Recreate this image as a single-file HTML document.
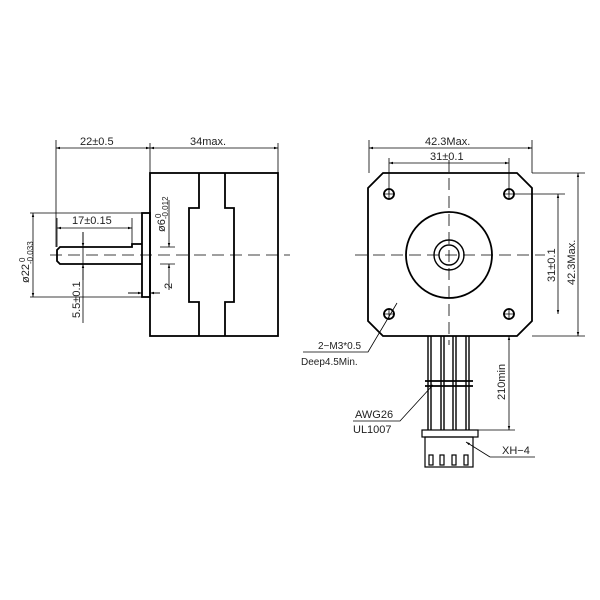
<!DOCTYPE html>
<html><head><style>body{margin:0;background:#fff}svg{display:block}text{font-family:"Liberation Sans",sans-serif;fill:#222}</style></head><body>
<svg width="600" height="600" viewBox="0 0 600 600" xmlns="http://www.w3.org/2000/svg">
<defs><marker id="a" viewBox="0 0 10 10" refX="10" refY="5" markerWidth="7" markerHeight="5" orient="auto-start-reverse"><path d="M0,2 L10,5 L0,8z" fill="#000"/></marker></defs>
<g fill="none" stroke="#000" stroke-width="1.8">
<rect x="150" y="173" width="128" height="163"/>
<path d="M199,173V208H189V302H199V336M225,173V208H234V302H225V336"/>
<rect x="142" y="213" width="8" height="84"/>
<path d="M142,244H132V247H60L57,250V261L60,264H142"/>
<path d="M368,188L383,173H517L532,188V321L517,336H383L368,321Z"/>
<circle cx="389" cy="194" r="5"/><circle cx="509" cy="194" r="5"/><circle cx="389" cy="314" r="5"/><circle cx="509" cy="314" r="5"/>
<circle cx="449" cy="255" r="43"/><circle cx="449" cy="255" r="15" stroke-width="1.4"/><circle cx="449" cy="255" r="10" stroke-width="1.4"/>
<rect x="422" y="430" width="56" height="7" stroke-width="1.2"/>
<rect x="425" y="437" width="48" height="30" stroke-width="1.2"/>
</g>
<g fill="none" stroke="#000" stroke-width="1.2">
<rect x="429" y="455" width="4" height="10"/><rect x="440" y="455" width="4" height="10"/><rect x="452" y="455" width="4" height="10"/><rect x="464" y="455" width="4" height="10"/>
<path d="M428,336V430M431,336V430M441,336V430M444,336V430M453,336V430M456,336V430M466,336V430M469,336V430" stroke-width="1.4"/>
<path d="M425,381H473M425,386H473" stroke-width="1.8"/>
</g>
<g fill="none" stroke="#000" stroke-width="0.8">
<path d="M50,255H290M355,255H545M449,160V345M383,194H395M509,188V200M503,194H515M383,314H395M389,308V320M509,308V320M503,314H515M389,188V200" stroke-dasharray="12,6"/>
<path d="M56,140V247M150,143V173M278,143V173M30,213H142M30,297H142M57,218V247M132,218V244M160,264H175M160,247H175M83,232V323M128,293H142M150,293H160M369,140V173M532,140V173M389,158V194M509,158V194M515,194H565M532,173H585M532,336H585M470,336H515M478,430H515M303,352H368L397,303M353,421H400L432,386M535,457H490"/>
<line x1="56" y1="148" x2="150" y2="148" marker-start="url(#a)" marker-end="url(#a)"/>
<line x1="150" y1="148" x2="278" y2="148" marker-start="url(#a)" marker-end="url(#a)"/>
<line x1="33" y1="213" x2="33" y2="297" marker-start="url(#a)" marker-end="url(#a)"/>
<line x1="57" y1="228" x2="132" y2="228" marker-start="url(#a)" marker-end="url(#a)"/>
<line x1="83" y1="232" x2="83" y2="247" marker-end="url(#a)"/>
<line x1="83" y1="280" x2="83" y2="264" marker-end="url(#a)"/>
<line x1="169" y1="200" x2="169" y2="247" marker-end="url(#a)"/>
<line x1="169" y1="290" x2="169" y2="264" marker-end="url(#a)"/>
<line x1="128" y1="293" x2="142" y2="293" marker-end="url(#a)"/>
<line x1="160" y1="293" x2="150" y2="293" marker-end="url(#a)"/>
<line x1="369" y1="148" x2="532" y2="148" marker-start="url(#a)" marker-end="url(#a)"/>
<line x1="389" y1="163" x2="509" y2="163" marker-start="url(#a)" marker-end="url(#a)"/>
<line x1="558" y1="194" x2="558" y2="314" marker-start="url(#a)" marker-end="url(#a)"/>
<line x1="578" y1="173" x2="578" y2="336" marker-start="url(#a)" marker-end="url(#a)"/>
<line x1="509" y1="336" x2="509" y2="430" marker-start="url(#a)" marker-end="url(#a)"/>
<line x1="432" y1="386" x2="430" y2="388" marker-end="url(#a)"/>
<line x1="490" y1="457" x2="466" y2="442" marker-end="url(#a)"/>
</g>
<g font-size="11">
<text x="80" y="145">22±0.5</text>
<text x="190" y="145">34max.</text>
<text x="72" y="224">17±0.15</text>
<text x="425" y="145">42.3Max.</text>
<text x="430" y="160">31±0.1</text>
<text transform="translate(172,289) rotate(-90)">2</text>
<text transform="translate(29,283) rotate(-90)">ø22<tspan font-size="8" dy="4">-0.033</tspan></text>
<text transform="translate(25,262) rotate(-90)" font-size="8">0</text>
<text transform="translate(80,318) rotate(-90)">5.5±0.1</text>
<text transform="translate(165,232) rotate(-90)">ø6<tspan font-size="8" dy="3">-0.012</tspan></text>
<text transform="translate(161,218) rotate(-90)" font-size="8">0</text>
<text transform="translate(555,282) rotate(-90)">31±0.1</text>
<text transform="translate(575,285) rotate(-90)">42.3Max.</text>
<text transform="translate(505,400) rotate(-90)">210min</text>
<text x="318" y="349" font-size="10">2−M3*0.5</text>
<text x="301" y="365" font-size="10">Deep4.5Min.</text>
<text x="355" y="418">AWG26</text>
<text x="353" y="433">UL1007</text>
<text x="502" y="454">XH−4</text>
</g>
</svg>
</body></html>
